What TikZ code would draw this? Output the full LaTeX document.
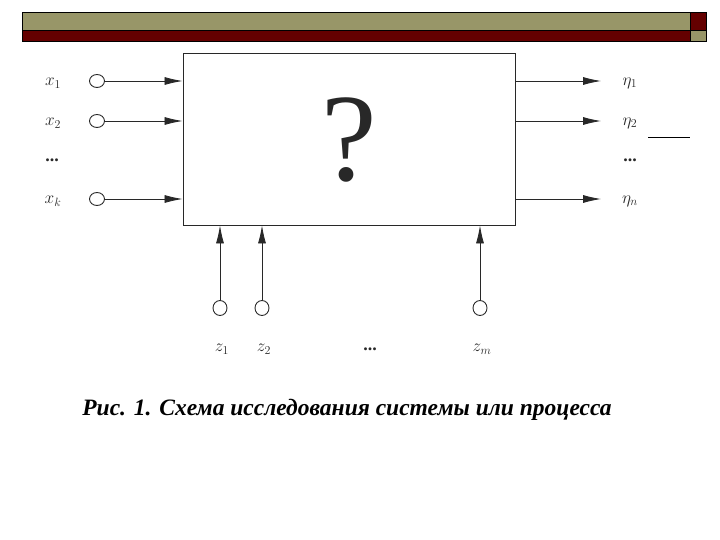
\documentclass[tikz,border=0pt]{standalone}
\usepackage{fontspec}
\setmainfont{Liberation Serif}
\usetikzlibrary{arrows.meta,shapes.geometric}
\definecolor{olive}{RGB}{152,150,104}
\definecolor{darkred}{RGB}{100,0,0}
\definecolor{ink}{RGB}{40,40,40}
\newcommand{\mydots}{\textbf{...}}
\begin{document}
\begin{tikzpicture}[x=1pt,y=-1pt,
  bar/.style={draw=black,line width=0.8pt},
  port/.style={draw=ink,line width=0.9pt,ellipse,minimum width=15pt,minimum height=13pt,inner sep=0pt},
  sig/.style={draw=ink,line width=0.8pt,-{Latex[length=18pt,width=8pt]}},
  lab/.style={font=\fontsize{18}{18}\selectfont,text=ink,inner sep=0pt}]
\useasboundingbox (0,0) rectangle (720,540);
% header bars
\filldraw[bar,fill=olive] (22,12) rectangle (690,30);
\filldraw[bar,fill=darkred] (22,30) rectangle (690,41);
\filldraw[bar,fill=darkred] (690,12) rectangle (706,30);
\filldraw[bar,fill=olive] (690,30) rectangle (706,41);
% box
\node[draw=ink,line width=0.9pt,minimum width=332pt,minimum height=172pt,inner sep=0pt] (box) at (349,139) {};
\node[font=\fontsize{125}{125}\selectfont,text=ink] (q) at (349,140) {?};
% inputs
\foreach \i/\y/\t in {1/81/$x_1$,2/121/$x_2$,3/199/$x_k$}{
  \node[port] (in\i) at (97,\y) {};
  \node[lab] (xl\i) at (53,\y+2) {\t};
  \coordinate (ie\i) at (box.west |- in\i);
  \draw[sig] (in\i) -- (ie\i);
}
\node[lab] (xd) at (52,160) {\mydots};
% outputs
\foreach \i/\y/\t in {1/81/$\eta_1$,2/121/$\eta_2$,3/199/$\eta_n$}{
  \coordinate (os\i) at (box.east |- 0,\y);
  \coordinate (oe\i) at (601,\y);
  \node[lab] (yl\i) at (630,\y+2) {\t};
  \draw[sig] (os\i) -- (oe\i);
}
\node[lab] (yd) at (630,160) {\mydots};
\coordinate (s1) at (648,137);
\coordinate (s2) at (690,137);
\draw[black,line width=0.8pt] (s1) -- (s2);
% bottom inputs
\foreach \i/\x/\t in {1/220/$z_1$,2/262/$z_2$,3/480/$z_m$}{
  \node[port,minimum width=14pt,minimum height=15pt] (zp\i) at (\x,308) {};
  \node[lab] (zl\i) at (\x+2,349) {\t};
  \coordinate (ze\i) at (zp\i |- box.south);
  \draw[sig] (zp\i) -- (ze\i);
}
\node[lab] (zd) at (370,349) {\mydots};
% caption
\node[font=\fontsize{23.5}{24}\selectfont\bfseries\itshape,inner sep=0pt] (cap) at (347,410) {Рис. 1. Схема исследования системы или процесса};
\end{tikzpicture}
\end{document}
